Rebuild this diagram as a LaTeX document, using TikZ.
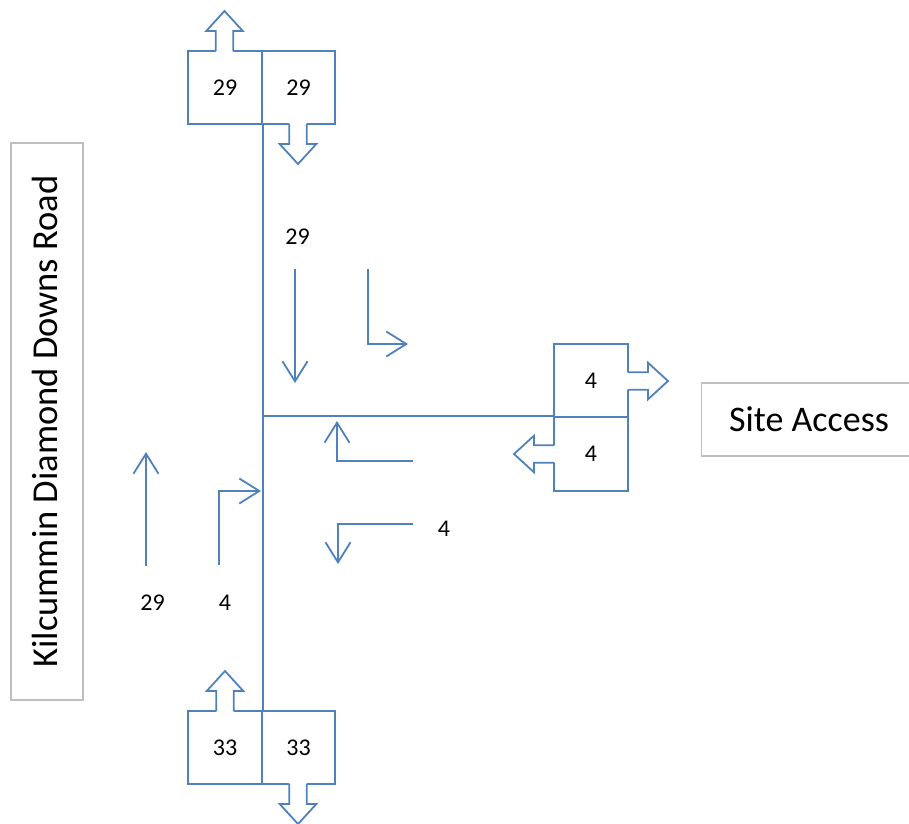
\documentclass[tikz,border=0pt]{standalone}
\usepackage{fontspec}
\setmainfont{Carlito}
\usetikzlibrary{arrows.meta}
\definecolor{roadblue}{RGB}{79,129,189}
\definecolor{framegray}{RGB}{191,191,191}
\tikzset{
  road/.style={draw=roadblue, line width=1.8pt},
  countbox/.style={draw=roadblue, line width=1.8pt, minimum width=73.5pt, minimum height=73.5pt,
    inner sep=0pt, font=\fontsize{24}{27}\selectfont},
  movement/.style={draw=roadblue, line width=1.8pt,
    -{Straight Barb[length=20pt,width=25pt,line width=1.8pt]}},
  count/.style={font=\fontsize{24}{27}\selectfont, inner sep=0pt},
  namebox/.style={draw=framegray, line width=1.4pt, inner sep=0pt},
  % block arrow pointing to -y (upwards on the page), base at the origin
  blockarrow/.pic={
    \fill[white] (-8.7,1.5) -- (-8.7,-20) -- (-18.3,-20) -- (0,-40) -- (18.3,-20) -- (8.7,-20) -- (8.7,1.5) -- cycle;
    \draw[roadblue, line width=1.8pt, line join=miter]
      (-8.7,0) -- (-8.7,-20) -- (-18.3,-20) -- (0,-40) -- (18.3,-20) -- (8.7,-20) -- (8.7,0);
  }
}
\begin{document}
\begin{tikzpicture}[x=1pt, y=-1pt]
\useasboundingbox (0,0) rectangle (909,823);

% road name frames
\node[namebox, minimum width=72pt, minimum height=557pt] (roadframe) at (47,421.5) {};
\node[rotate=90, font=\fontsize{36.5}{40}\selectfont] (roadname) at (45,421.5) {Kilcummin Diamond Downs Road};
\node[namebox, minimum width=210pt, minimum height=73pt, anchor=west] (siteframe) at (701,419.5) {};
\node[font=\fontsize{36}{40}\selectfont] (sitename) at (809,419) {Site Access};

% count boxes
\node[countbox] (nin)  at (225,87.5)  {29};
\node[countbox] (nout) at (298.5,87.5) {29};
\node[countbox] (sout) at (225,747.5) {33};
\node[countbox] (sin)  at (298.5,747.5) {33};
\node[countbox] (eout) at (591,380.5) {4};
\node[countbox] (ein)  at (591,454)   {4};

% road centre lines
\draw[road] (nin.south east) -- (sout.north east);
\coordinate (junction) at (nin.south east |- ein.north west);
\draw[road] (junction) -- (ein.north west);

% block arrows on the count boxes
\pic at (224.5,51) {blockarrow};
\pic[rotate=180] at (298,124) {blockarrow};
\pic at (225,711) {blockarrow};
\pic[rotate=180] at (298,784) {blockarrow};
\pic[rotate=-90] at (628,381) {blockarrow};
\pic[rotate=90] at (554,454) {blockarrow};

% turning movements
\coordinate (a1) at (295,269);  \coordinate (a2) at (295,383);
\draw[movement] (a1) -- (a2);
\coordinate (b1) at (368,269);  \coordinate (b2) at (368,344);  \coordinate (b3) at (408,344);
\draw[movement] (b1) -- (b2) -- (b3);
\coordinate (c1) at (146,566);  \coordinate (c2) at (146,452);
\draw[movement] (c1) -- (c2);
\coordinate (d1) at (219,565);  \coordinate (d2) at (219,491);  \coordinate (d3) at (261,491);
\draw[movement] (d1) -- (d2) -- (d3);
\coordinate (e1) at (413,461);  \coordinate (e2) at (337,461);  \coordinate (e3) at (337,421);
\draw[movement] (e1) -- (e2) -- (e3);
\coordinate (f1) at (413,524);  \coordinate (f2) at (338,524);  \coordinate (f3) at (338,564);
\draw[movement] (f1) -- (f2) -- (f3);

% movement counts
\node[count] (lsouth) at (297.5,237) {29};
\node[count] (lthru)  at (152.5,603) {29};
\node[count] (lright) at (225,603)   {4};
\node[count] (lleft)  at (444,529)   {4};
\end{tikzpicture}
\end{document}
